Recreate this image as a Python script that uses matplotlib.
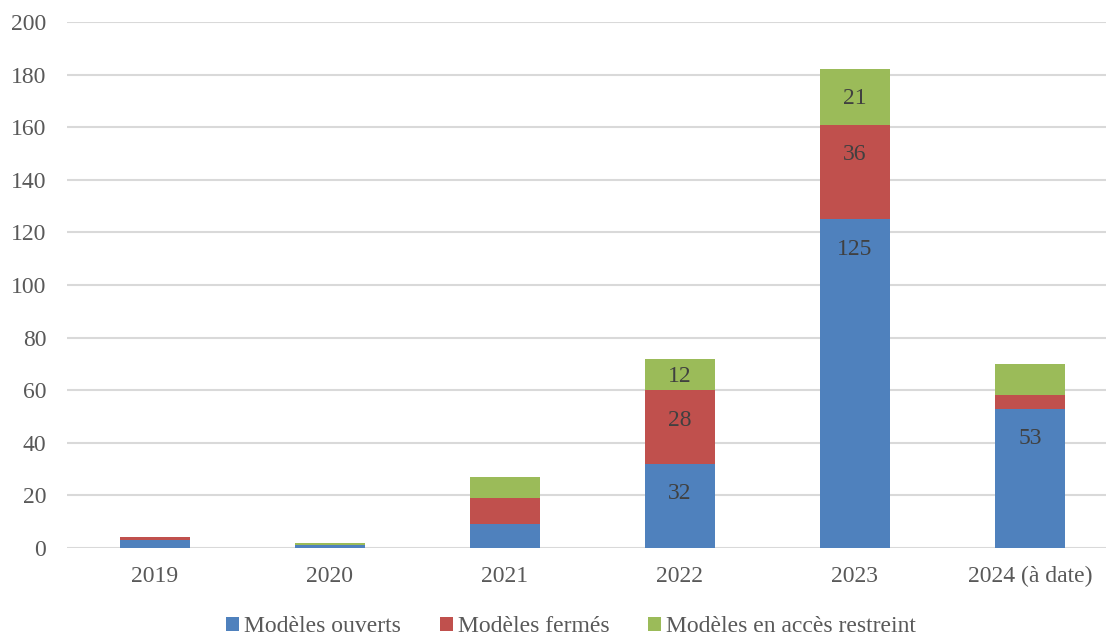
import matplotlib
matplotlib.use("Agg")
import matplotlib.pyplot as plt
import numpy as np

categories = ["2019", "2020", "2021", "2022", "2023", "2024 (à date)"]
open_models = [3, 1, 9, 32, 125, 53]
closed_models = [1, 0, 10, 28, 36, 5]
restricted_models = [0, 1, 8, 12, 21, 12]
series_names = ["Modèles ouverts", "Modèles fermés", "Modèles en accès restreint"]
colors = ["#4F81BD", "#C0504D", "#9BBB59"]
# which values get a label: (series index, category index)
labelled = [(0, 3), (1, 3), (2, 3), (0, 4), (1, 4), (2, 4), (0, 5)]
y_ticks = [0, 20, 40, 60, 80, 100, 120, 140, 160, 180, 200]

plt.rcParams['font.family'] = ['Liberation Serif', 'DejaVu Serif']

W, H = 1106, 636
fig = plt.figure(figsize=(W / 100, H / 100), dpi=100)
left, right, top, bottom = 67, 1106, 22, 548
ax = fig.add_axes([left / W, 1 - bottom / H, (right - left) / W, (bottom - top) / H])

x = np.arange(len(categories))
series = [open_models, closed_models, restricted_models]
bottoms = np.zeros(len(categories))
bars = []
for vals, name, col in zip(series, series_names, colors):
    b = ax.bar(x, vals, width=0.4, bottom=bottoms, color=col, label=name, zorder=3)
    bars.append(b)
    bottoms = bottoms + np.array(vals)

ax.set_xlim(-0.5, (1106 - 155) / 175)
ax.set_ylim(0, 200)

# "inside end" labels: ~30 px below segment top, or centred if segment is short
px_per_unit = (bottom - top) / 200.0
offset = 30 / px_per_unit
for si, ci in labelled:
    rect = bars[si][ci]
    val = series[si][ci]
    y0, h = rect.get_y(), rect.get_height()
    if h < 2 * offset:
        yc = y0 + h / 2 - 2 / px_per_unit
    else:
        yc = y0 + h - offset
    ax.text(rect.get_x() + rect.get_width() / 2, yc, str(val), ha='center', va='center',
            fontsize=17, color='#404040', zorder=4)

ax.set_yticks(y_ticks)
ax.set_xticks(x)
ax.set_xticklabels(categories)
ax.tick_params(axis='both', length=0, labelsize=17, colors='#595959')
ax.tick_params(axis='y', pad=15)
ax.tick_params(axis='x', pad=13)
ax.yaxis.grid(True, color='#D9D9D9', linewidth=1.5, zorder=0)
for s in ax.spines.values():
    s.set_visible(False)

fig.legend(handles=bars, labels=series_names, loc='center', bbox_to_anchor=(571 / W, 1 - 627 / H),
           ncol=3, frameon=False, fontsize=17, handlelength=0.55, handleheight=0.55,
           handletextpad=0.2, columnspacing=1.65, labelcolor='#595959')

fig.savefig("out.png", dpi=100)
